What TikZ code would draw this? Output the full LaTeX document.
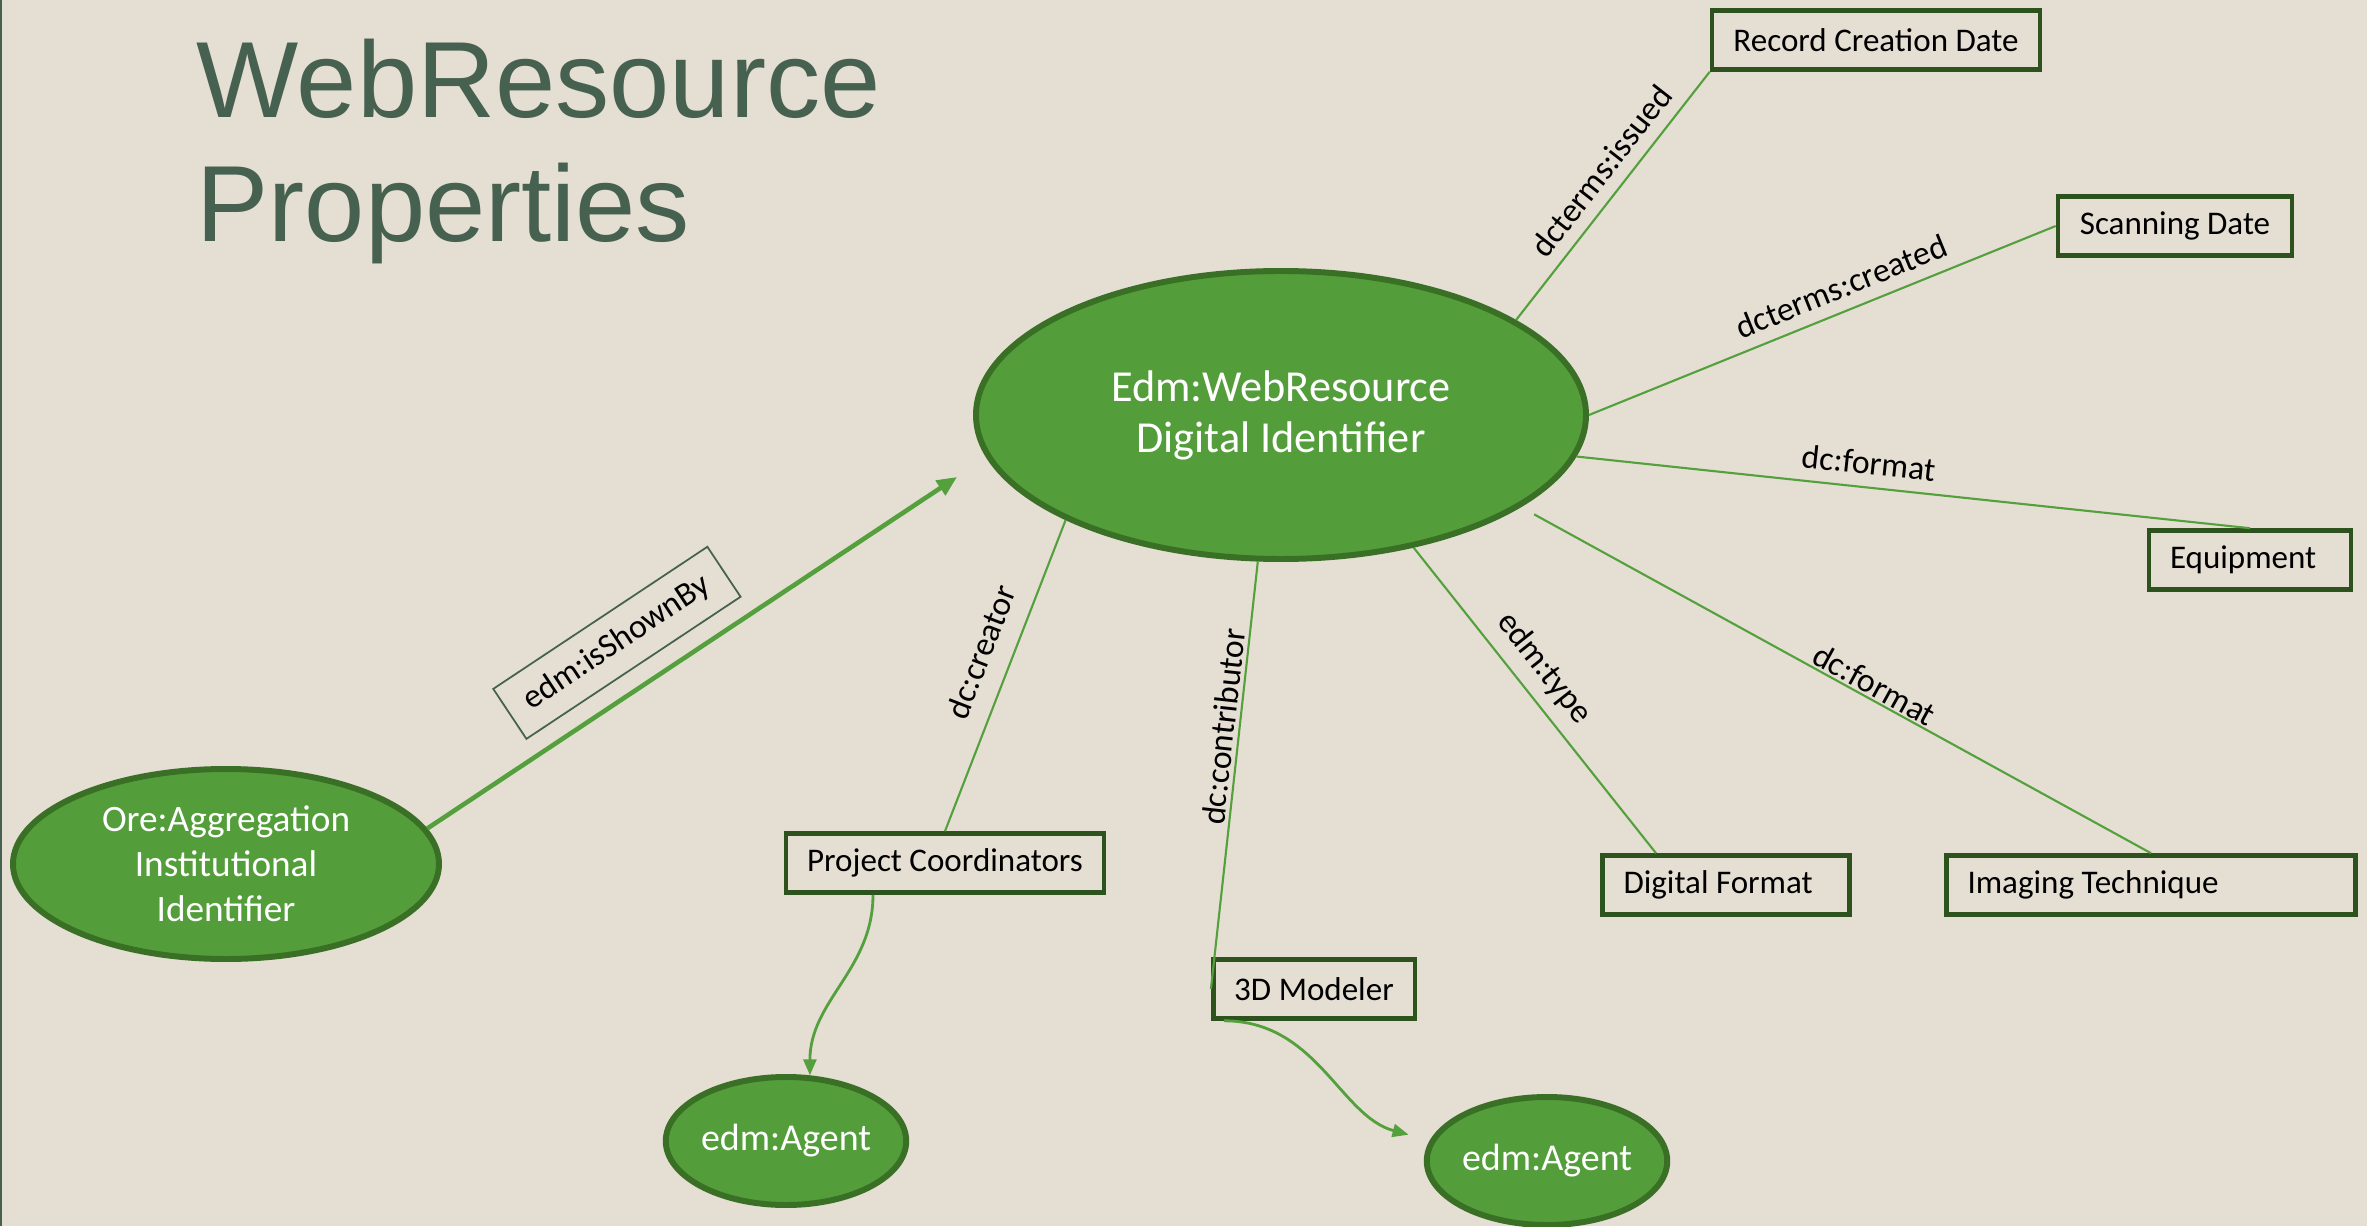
\documentclass[tikz,border=0pt]{standalone}
\usepackage{fontspec}
\setmainfont{Carlito}
\newfontfamily\titlefont{Liberation Sans}
\usepackage{tikz}
\usetikzlibrary{arrows.meta,shapes.geometric}
\usepackage{xcolor}
\definecolor{paper}{HTML}{E4DED3}
\definecolor{leaf}{HTML}{539E3A}
\definecolor{leafdark}{HTML}{3A7026}
\definecolor{boxline}{HTML}{2E521E}
\definecolor{wire}{HTML}{54A03C}
\definecolor{slate}{HTML}{466150}

\begin{document}
\begin{tikzpicture}[
  entity/.style={ellipse, draw=leafdark, line width=1.7pt, fill=leaf, text=white, align=center, inner sep=0pt},
  propbox/.style={draw=boxline, line width=1.3pt, fill=paper, minimum height=0.59cm, inner xsep=0.21cm, inner ysep=0pt, font=\fontsize{9.4}{11}\selectfont},
  prop/.style={wire, line width=0.6pt},
  proplabel/.style={sloped, above, font=\fontsize{9.6}{11}\selectfont, text=black},
  agentarrow/.style={wire, line width=0.8pt, -{Triangle[length=0.16cm, width=0.13cm]}}
]
\fill[paper] (0,0) rectangle (23.67,12.26);
\useasboundingbox (0,0) rectangle (23.67,12.26);
\draw[slate, line width=0.8pt] (0.01,0) -- (0.01,12.26);

% Title
\node[anchor=north west, inner sep=0pt, align=left, text=slate, font=\titlefont\fontsize{30.8}{35.3}\selectfont] (title) at (1.96,11.88) {WebResource\\Properties};

% Resources
\node[entity, minimum width=6.1cm, minimum height=2.88cm, font=\fontsize{12.6}{14.5}\selectfont] (web) at (12.81,8.11) {Edm:WebResource\\Digital Identifier};
\node[entity, minimum width=4.26cm, minimum height=1.9cm, font=\fontsize{10.6}{12.8}\selectfont] (ore) at (2.26,3.62) {Ore:Aggregation\\Institutional\\Identifier};
\node[entity, minimum width=2.32cm, minimum height=1.28cm, font=\fontsize{10.8}{13}\selectfont] (agent1) at (7.86,0.85) {edm:Agent};
\node[entity, minimum width=2.32cm, minimum height=1.28cm, font=\fontsize{10.8}{13}\selectfont] (agent2) at (15.47,0.65) {edm:Agent};

% Property values
\node[propbox, minimum width=3.28cm] (rcd) at (18.76,11.86) {Record Creation Date};
\node[propbox, minimum width=2.34cm] (scan) at (21.75,10.00) {Scanning Date};
\node[propbox, text width=1.60cm, align=flush left] (equip) at (22.50,6.66) {Equipment};
\node[propbox, text width=3.67cm, align=flush left] (img) at (21.51,3.41) {Imaging Technique};
\node[propbox, text width=2.05cm, align=flush left] (dfmt) at (17.26,3.41) {Digital Format};
\node[propbox, minimum width=1.96cm] (mod) at (13.14,2.37) {3D Modeler};
\node[propbox, minimum width=3.13cm] (pc) at (9.45,3.63) {Project Coordinators};

% Properties of the web resource
\draw[prop] (web.22) -- node[proplabel, pos=0.54] {dcterms:issued} (rcd.south west);
\draw[prop] (web.east) -- node[proplabel, pos=0.56] {dcterms:created} (scan.west);
\draw[prop] (web.352) -- node[proplabel, pos=0.43] {dc:format} (equip.north);
\draw[prop, shorten <=0.15cm] (web.339) -- node[proplabel, pos=0.55, inner sep=0.5pt] {dc:format} (img.north);
\draw[prop] (web.315) -- node[proplabel, pos=0.45] {edm:type} ([xshift=-0.7cm]dfmt.north);
\draw[prop] (web.261) -- node[proplabel, pos=0.39, inner sep=1pt] {dc:contributor} (mod.west);
\draw[prop] (web.206) -- node[proplabel, pos=0.46, above=2pt] {dc:creator} (pc.north);

% Aggregation link
\coordinate (showEnd) at (9.57,7.49);
\draw[wire, line width=1.3pt, -{Triangle[length=0.2cm, width=0.17cm]}] (ore.10) -- node[sloped, above=0.19cm, pos=0.41, draw=slate, line width=0.5pt, minimum width=2.57cm, minimum height=0.6cm, font=\fontsize{9.6}{11}\selectfont, text=black] (shownby) {edm:isShownBy} (showEnd);

% Agents
\draw[agentarrow] ([xshift=-0.72cm]pc.south) to[out=-90, in=90] (agent1.70);
\draw[agentarrow, shorten >=0.22cm] ([xshift=0.13cm]mod.south west) to[out=0, in=165] (agent2.170);
\end{tikzpicture}
\end{document}
